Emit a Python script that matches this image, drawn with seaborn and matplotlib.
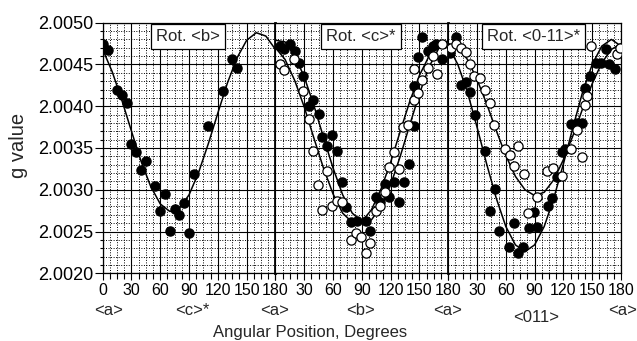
import matplotlib
matplotlib.use("Agg")
import matplotlib.pyplot as plt
import matplotlib.transforms as mtransforms
from matplotlib.ticker import MultipleLocator
import pandas as pd
import seaborn as sns

# ---------------- data ----------------
# Rotation about <b>
rot_b_theta = [0, 6, 15, 20, 25, 30, 35, 40, 45, 55, 60, 65, 70, 75, 80, 85, 90, 95, 110, 125, 135, 140]
rot_b_g = [2.00474, 2.00467, 2.00420, 2.00414, 2.00404, 2.00355, 2.00345, 2.00324, 2.00335, 2.00305,
           2.00275, 2.00295, 2.00251, 2.00277, 2.00270, 2.00284, 2.00248, 2.00319, 2.00376, 2.00418,
           2.00457, 2.00446]

# Rotation about <c>*
rot_c_filled_theta = [5, 9, 15, 20, 25, 29, 35, 39, 45, 49, 54, 59, 64, 69, 74, 79, 85, 94, 99, 105,
                      109, 114, 118, 123, 129, 134, 139, 144, 144, 148, 153, 159, 164, 167, 173]
rot_c_filled_g = [2.00472, 2.00468, 2.00474, 2.00466, 2.00452, 2.00436, 2.00400, 2.00408, 2.00391, 2.00363,
                  2.00352, 2.00366, 2.00346, 2.00309, 2.00279, 2.00261, 2.00263, 2.00263, 2.00251, 2.00291,
                  2.00285, 2.00307, 2.00291, 2.00309, 2.00285, 2.00309, 2.00331, 2.00376, 2.00424, 2.00459,
                  2.00483, 2.00466, 2.00472, 2.00475, 2.00456]
rot_c_open_theta = [5, 9, 19, 29, 35, 39, 44, 49, 54, 59, 64, 69, 79, 84, 89, 94, 98, 105, 109, 114,
                    118, 123, 129, 133, 138, 144, 144, 148, 153, 159, 164, 168, 173]
rot_c_open_g = [2.00450, 2.00443, 2.00457, 2.00418, 2.00385, 2.00346, 2.00306, 2.00276, 2.00323, 2.00281,
                2.00287, 2.00285, 2.00240, 2.00248, 2.00244, 2.00224, 2.00236, 2.00275, 2.00280, 2.00297,
                2.00327, 2.00345, 2.00325, 2.00375, 2.00377, 2.00408, 2.00444, 2.00416, 2.00432, 2.00446,
                2.00460, 2.00439, 2.00474]

# Rotation about <0-11>*
rot_011_filled_theta = [2, 8, 13, 18, 23, 28, 38, 43, 49, 53, 63, 68, 73, 78, 84, 89, 93, 104, 108, 113,
                        119, 122, 128, 134, 139, 143, 148, 154, 159, 164, 168, 174]
rot_011_filled_g = [2.00464, 2.00483, 2.00426, 2.00429, 2.00417, 2.00390, 2.00346, 2.00275, 2.00301, 2.00251,
                    2.00231, 2.00260, 2.00224, 2.00232, 2.00254, 2.00273, 2.00256, 2.00281, 2.00290, 2.00315,
                    2.00345, 2.00349, 2.00379, 2.00380, 2.00380, 2.00422, 2.00436, 2.00452, 2.00452, 2.00469,
                    2.00450, 2.00444]
rot_011_open_theta = [3, 8, 13, 19, 23, 27, 33, 38, 44, 48, 59, 64, 68, 73, 79, 83, 93, 103, 109, 119,
                      128, 134, 139, 143, 145, 149, 176, 179]
rot_011_open_g = [2.00470, 2.00474, 2.00470, 2.00465, 2.00451, 2.00436, 2.00434, 2.00419, 2.00404, 2.00377,
                  2.00349, 2.00342, 2.00329, 2.00352, 2.00319, 2.00272, 2.00291, 2.00322, 2.00326, 2.00316,
                  2.00349, 2.00371, 2.00339, 2.00402, 2.00412, 2.00472, 2.00462, 2.00470]

# fitted curves, read every 10 degrees
curve_theta = [0, 10, 20, 30, 40, 50, 60, 70, 80, 90, 100, 110, 120, 130, 140, 150, 160, 170, 180]
curve_b = [2.00468, 2.00441, 2.00407, 2.00370, 2.00334, 2.00304, 2.00283, 2.00274, 2.00278, 2.00294,
           2.00321, 2.00355, 2.00392, 2.00428, 2.00458, 2.00479, 2.00488, 2.00484, 2.00468]
curve_c_open = [2.00470, 2.00456, 2.00431, 2.00399, 2.00362, 2.00326, 2.00295, 2.00272, 2.00261, 2.00262,
                2.00276, 2.00301, 2.00333, 2.00370, 2.00406, 2.00437, 2.00460, 2.00471, 2.00470]
curve_c_filled = [2.00479, 2.00477, 2.00461, 2.00435, 2.00401, 2.00363, 2.00326, 2.00294, 2.00272, 2.00262,
                  2.00264, 2.00280, 2.00306, 2.00340, 2.00378, 2.00415, 2.00447, 2.00469, 2.00479]
curve_011_filled = [2.00472, 2.00450, 2.00417, 2.00375, 2.00331, 2.00290, 2.00256, 2.00234, 2.00226, 2.00234,
                    2.00256, 2.00290, 2.00331, 2.00375, 2.00417, 2.00450, 2.00472, 2.00480, 2.00472]
curve_011_open = [2.00475, 2.00471, 2.00456, 2.00432, 2.00403, 2.00371, 2.00341, 2.00316, 2.00300, 2.00293,
                  2.00297, 2.00312, 2.00336, 2.00365, 2.00397, 2.00427, 2.00452, 2.00468, 2.00475]

panel_titles = ["Rot. <b>", "Rot. <c>*", "Rot. <0-11>*"]
x_ticks = [0, 30, 60, 90, 120, 150, 180]
y_ticks = [2.0020, 2.0025, 2.0030, 2.0035, 2.0040, 2.0045, 2.0050]
direction_labels = [  # (panel, angle, text)
    (0, 6, "<a>"), (0, 93, "<c>*"), (0, 179, "<a>"),
    (1, 89, "<b>"), (1, 179, "<a>"),
    (2, 92, "<011>"), (2, 182, "<a>"),
]

# ---------------- figure ----------------
sns.set_style("ticks", {"axes.edgecolor": "black", "xtick.color": "black", "ytick.color": "black"})
plt.rcParams["font.family"] = ["Liberation Sans", "DejaVu Sans"]

W, H = 637, 341
fig = plt.figure(figsize=(W / 100, H / 100), dpi=100)
left_px, right_px, top_px, bot_px = 102.7, 621.0, 22.7, 273.3
pw = (right_px - left_px) / 3

panels = [
    [(rot_b_theta, rot_b_g, True)],
    [(rot_c_filled_theta, rot_c_filled_g, True), (rot_c_open_theta, rot_c_open_g, False)],
    [(rot_011_filled_theta, rot_011_filled_g, True), (rot_011_open_theta, rot_011_open_g, False)],
]
curves = [[curve_b], [curve_c_open, curve_c_filled], [curve_011_filled, curve_011_open]]

axes = []
for i in range(3):
    ax = fig.add_axes([(left_px + i * pw) / W, (H - bot_px) / H, pw / W, (bot_px - top_px) / H])
    axes.append(ax)
    ax.set_xlim(0, 180)
    ax.set_ylim(2.0020, 2.0050)
    ax.xaxis.set_major_locator(MultipleLocator(30))
    ax.xaxis.set_minor_locator(MultipleLocator(7.5))
    ax.yaxis.set_major_locator(MultipleLocator(0.0005))
    ax.yaxis.set_minor_locator(MultipleLocator(0.0001))
    ax.set_axisbelow(True)
    ax.grid(which="minor", color="black", lw=0.7, ls=(0, (1, 1.6)))
    ax.grid(which="major", color="black", lw=0.8, ls="-")

    for cv in curves[i]:
        sns.lineplot(x=curve_theta, y=cv, ax=ax, color="black", lw=1.1,
                     estimator=None, sort=False, legend=False, zorder=3)
    for th, g, filled in panels[i]:
        df = pd.DataFrame({"theta": th, "g": g})
        sns.scatterplot(data=df, x="theta", y="g", ax=ax, s=44,
                        color="black" if filled else "white", edgecolor="black",
                        linewidth=0.9, legend=False, zorder=4)

    labels = [str(t) for t in x_ticks]
    if i > 0:
        labels[0] = ""
    ax.set_xticks(x_ticks, labels)
    ax.tick_params(axis="x", which="major", direction="out", length=5, width=0.8,
                   labelsize=11.5, pad=2)
    ax.tick_params(axis="x", which="minor", direction="out", length=4, width=0.8)
    if i == 0:
        ax.set_yticks(y_ticks, [f"{v:.4f}" for v in y_ticks])
        ax.tick_params(axis="y", which="major", direction="out", length=6, width=0.8,
                       labelsize=13, pad=0.5)
        ax.tick_params(axis="y", which="minor", direction="out", length=2.5, width=0.8)
    else:
        ax.tick_params(axis="y", which="both", left=False, labelleft=False)
    ax.set_xlabel("")
    ax.set_ylabel("")

    for sp in ax.spines.values():
        sp.set_linewidth(0.9)
        sp.set_color("black")
    if i < 2:
        ax.spines["right"].set_linewidth(2.0)
        ax.spines["right"].set_zorder(6)
    if i > 0:
        ax.spines["left"].set_visible(False)

    trans = mtransforms.blended_transform_factory(ax.transData, ax.transAxes)
    ax.text(89, 0.944, panel_titles[i], transform=trans, ha="center", va="center",
            fontsize=12, zorder=7,
            bbox=dict(boxstyle="square,pad=0.3", fc="white", ec="black", lw=0.9))

for pi, ang, txt in direction_labels:
    ax = axes[pi]
    off = -31.5 if txt == "<011>" else -27
    ax.annotate(txt, xy=(ang, 0), xycoords=("data", "axes fraction"), xytext=(0, off),
                textcoords="offset points", ha="center", va="center", fontsize=12,
                annotation_clip=False)

fig.text(310 / W, 1 - 332 / H, "Angular Position, Degrees", ha="center", va="center", fontsize=12)
fig.text(19 / W, 1 - 145 / H, "g value", ha="center", va="center", rotation=90, fontsize=14.5)

fig.savefig("out.png", dpi=100)
